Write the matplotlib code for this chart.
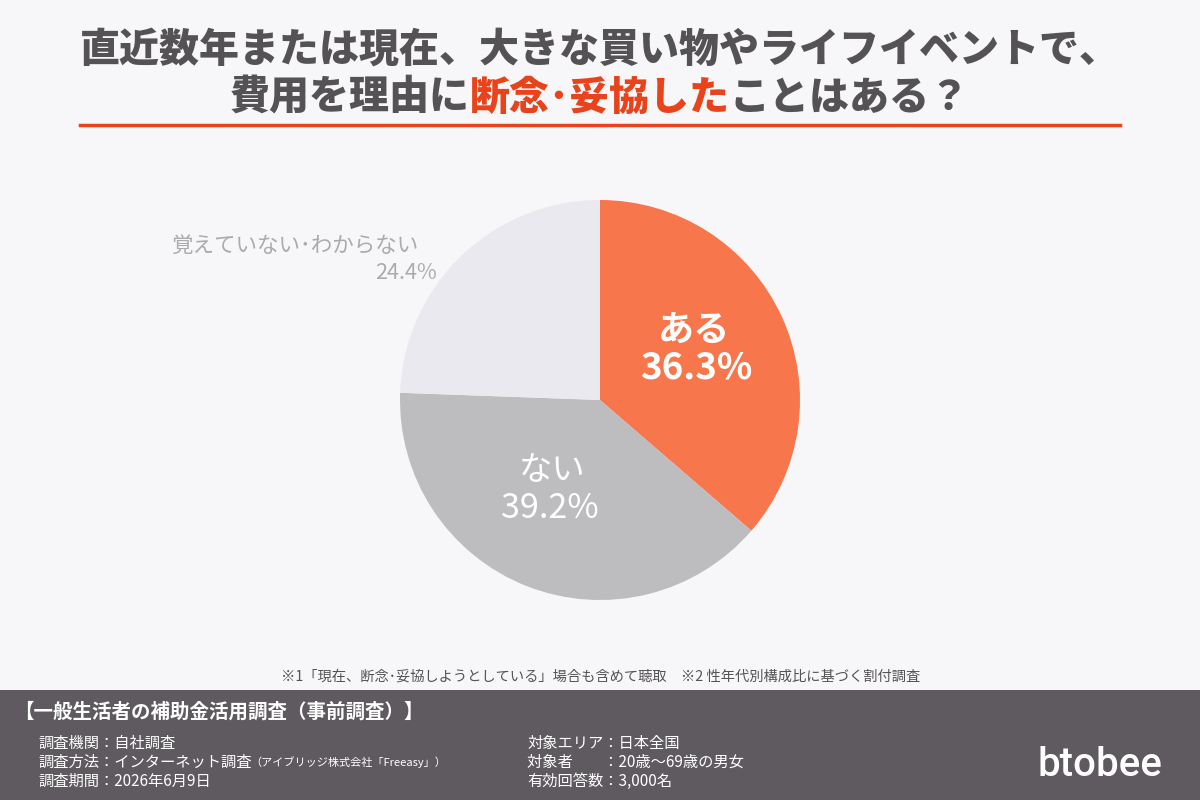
import matplotlib
matplotlib.use("Agg")
import matplotlib.pyplot as plt

plt.rcParams['font.family'] = ['Noto Sans CJK JP', 'DejaVu Sans']

labels = ["ある", "ない", "覚えていない･わからない"]
values = [36.3, 39.2, 24.4]
colors = ["#F7764C", "#BDBCBE", "#E9E9EF"]

title1 = "直近数年または現在、大きな買い物やライフイベントで、"
title2_parts = [("費用を理由に", "#555255"), ("断念･妥協した", "#E8431B"), ("ことはある？", "#555255")]
note = "※1「現在、断念･妥協しようとしている」場合も含めて聴取　※2 性年代別構成比に基づく割付調査"
footer_title = "【一般生活者の補助金活用調査（事前調査）】"
footer_left = ["調査機関：自社調査", "調査方法：インターネット調査", "調査期間：2026年6月9日"]
footer_left_small = "（アイブリッジ株式会社「Freeasy」）"
footer_right = ["対象エリア：日本全国", "対象者　　：20歳～69歳の男女", "有効回答数：3,000名"]

W, H = 1200, 800
fig = plt.figure(figsize=(12, 8), dpi=100, facecolor="#F7F6F8")

def fx(x): return x / W
def fy(y): return 1 - y / H

TW = "black"
fig.text(0.5, fy(50), title1, ha="center", va="center", fontsize=28.8,
         fontweight=TW, color="#555255")
fig.canvas.draw()
r = fig.canvas.get_renderer()
widths = []
for s, c in title2_parts:
    t = fig.text(0, 0, s, fontsize=28.8, fontweight=TW)
    widths.append(t.get_window_extent(r).width)
    t.remove()
total = sum(widths)
x0 = 600 - total / 2
for (s, c), w in zip(title2_parts, widths):
    fig.text(fx(x0), fy(98), s, ha="left", va="center", fontsize=28.8,
             fontweight=TW, color=c)
    x0 += w

fig.add_artist(plt.Line2D([fx(80), fx(1120)], [fy(125), fy(125)], color="#E8431B", lw=2.5))

# pie
ax = fig.add_axes([fx(400), fy(600), 400 / W, 400 / H])
ax.pie(values, colors=colors, startangle=90, counterclock=False,
       wedgeprops=dict(linewidth=0), radius=1)
ax.set_xlim(-1, 1); ax.set_ylim(-1, 1); ax.set_aspect("equal")
ax.axis("off")

fig.text(fx(694), fy(331), labels[0], ha="center", va="center", fontsize=26,
         fontweight="bold", color="white")
fig.text(fx(696), fy(368), f"{values[0]}%", ha="center", va="center", fontsize=26.5,
         fontweight="bold", color="white")
fig.text(fx(552), fy(471), labels[1], ha="center", va="center", fontsize=24,
         color="white")
fig.text(fx(550), fy(508), f"{values[1]}%", ha="center", va="center", fontsize=24.5,
         color="white")
fig.text(fx(418), fy(246), labels[2], ha="right", va="center", fontsize=15.5,
         color="#ABAAAD")
fig.text(fx(437), fy(273), f"{values[2]}%", ha="right", va="center", fontsize=15.5,
         color="#ABAAAD")

# note
fig.text(fx(601), fy(676), note, ha="center", va="center", fontsize=10.3, color="#555255")

# footer
fig.add_artist(plt.Rectangle((0, 0), 1, 110 / H, transform=fig.transFigure,
                             facecolor="#5E5A5F", edgecolor="none"))
fig.text(fx(14), fy(712), footer_title, ha="left", va="center", fontsize=14,
         fontweight="bold", color="white")
ys = [743, 762, 781]
for s, y in zip(footer_left, ys):
    fig.text(fx(38), fy(y), s, ha="left", va="center", fontsize=11, color="white")
fig.text(fx(250), fy(762), footer_left_small, ha="left", va="center", fontsize=8,
         color="white")
for s, y in zip(footer_right, ys):
    fig.text(fx(527), fy(y), s, ha="left", va="center", fontsize=11, color="white")
fig.text(fx(1100), fy(765), "btobee", ha="center", va="center", fontsize=29,
         color="white", fontweight="medium", family=["Roboto", "DejaVu Sans"])

fig.savefig("out.png", dpi=100, facecolor=fig.get_facecolor())
